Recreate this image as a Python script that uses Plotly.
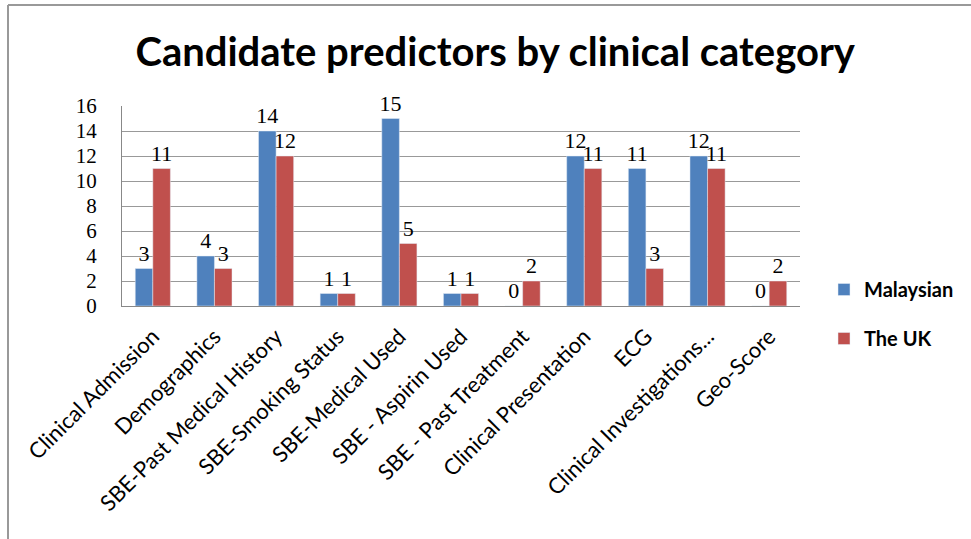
import plotly.graph_objects as go

categories = ["Clinical Admission", "Demographics", "SBE-Past Medical History",
              "SBE-Smoking Status", "SBE-Medical Used", "SBE - Aspirin Used",
              "SBE - Past Treatment", "Clinical Presentation", "ECG",
              "Clinical Investigations...", "Geo-Score"]
malaysian = [3, 4, 14, 1, 15, 1, 0, 12, 11, 12, 0]
the_uk = [11, 3, 12, 1, 5, 1, 2, 11, 3, 11, 2]
y_ticks = [0, 2, 4, 6, 8, 10, 12, 14, 16]

W, H = 971, 539
L, R, T, B = 122, 171, 106, 233
PW, PH = W - L - R, H - T - B

serif = "Liberation Serif, Times New Roman, serif"
sans = "Lato, Open Sans, sans-serif"
label_font = dict(family=serif, size=22, color="black")

fig = go.Figure()
fig.add_trace(go.Bar(name="Malaysian", x=categories, y=malaysian, marker_color="#4F81BD",
                     text=malaysian, textposition="outside", textfont=label_font,
                     constraintext="none", cliponaxis=False, legendgroup="m"))
fig.add_trace(go.Bar(name="The UK", x=categories, y=the_uk, marker_color="#C0504D",
                     text=the_uk, textposition="outside", textfont=label_font,
                     constraintext="none", cliponaxis=False, legendgroup="u"))

fig.update_layout(
    width=W, height=H,
    margin=dict(l=L, r=R, t=T, b=B),
    paper_bgcolor="white", plot_bgcolor="white",
    barmode="group", bargap=0.43, bargroupgap=0,
    title=dict(text="<b>Candidate predictors by clinical category</b>", x=0.51, xanchor="center",
               y=(H - 52) / H, yanchor="middle",
               font=dict(family=sans, size=40, color="black")),
    legend=dict(x=(824 - L) / PW, y=(H - 270 - B) / PH,
                xanchor="left", yanchor="top",
                font=dict(family=sans, size=20, color="black", weight="bold"),
                tracegroupgap=20, itemwidth=30, bgcolor="rgba(0,0,0,0)"),
    xaxis=dict(tickangle=-45, showgrid=False, showline=True, linecolor="#888888",
               tickfont=dict(family=sans, size=22, color="black"),
               ticks="", ticklabelstandoff=8),
    yaxis=dict(range=[0, 16], tickvals=y_ticks, showgrid=True, gridcolor="#999999",
               showline=True, linecolor="#888888", zeroline=False,
               tickfont=dict(family=serif, size=21, color="black"),
               ticks="", ticklabelstandoff=20),
    shapes=[
        dict(type="line", xref="paper", yref="paper", x0=-(L - 8) / PW, x1=(W - L) / PW,
             y0=(H - 5 - B) / PH, y1=(H - 5 - B) / PH,
             line=dict(color="#999999", width=2)),
        dict(type="line", xref="paper", yref="paper", x0=-(L - 8) / PW, x1=-(L - 8) / PW,
             y0=(H - 5 - B) / PH, y1=-B / PH,
             line=dict(color="#999999", width=2)),
    ],
)

fig.write_html("out.html")
